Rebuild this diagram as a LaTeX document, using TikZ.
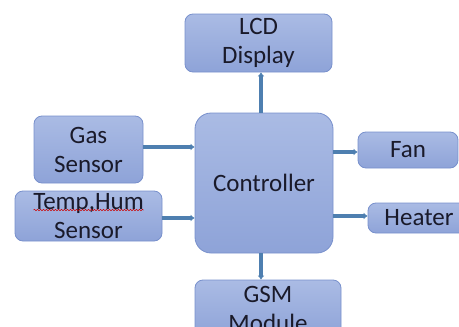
\documentclass[tikz,border=0pt]{standalone}
\usepackage{fontspec}
\setmainfont{Carlito}
\usetikzlibrary{arrows.meta,decorations.pathmorphing}
\definecolor{boxtop}{HTML}{AABBE4}
\definecolor{boxbot}{HTML}{8EA3D8}
\definecolor{boxline}{HTML}{7890CC}
\definecolor{arrcol}{HTML}{4E7FB0}
\definecolor{txtcol}{HTML}{1A1A2A}
\tikzset{
  blk/.style={draw=boxline, line width=0.8pt, top color=boxtop, bottom color=boxbot,
    rounded corners=8pt, inner sep=0pt, align=center, text=txtcol,
    font=\fontsize{25}{29}\selectfont},
  arr/.style={draw=arrcol, line width=3.2pt, -{Latex[length=4pt,width=7pt]}},
}
\begin{document}
\begin{tikzpicture}[x=1pt,y=-1pt]
\useasboundingbox (0,0) rectangle (459,327);
\clip (0,0) rectangle (459,327);
\node[blk, minimum width=147pt, minimum height=58pt] (lcd) at (258.5,43) {LCD\\Display};
\node[blk, minimum width=138pt, minimum height=140pt, rounded corners=16pt] (ctrl) at (264,183) {Controller};
\node[blk, minimum width=109pt, minimum height=67pt] (gas) at (88.5,149.5) {Gas\\Sensor};
\node[blk, minimum width=147pt, minimum height=50pt] (temp) at (88.5,216) {Temp,Hum\\Sensor};
\node[blk, minimum width=100pt, minimum height=36pt] (fan) at (408,150) {Fan};
\node[blk, minimum width=102pt, minimum height=30pt] (heater) at (419,218) {Heater};
\node[blk, minimum width=146pt, minimum height=58pt] (gsm) at (268,309) {GSM\\Module};
\draw[red!80!black, line width=0.5pt, decorate, decoration={snake, amplitude=0.7pt, segment length=3pt}]
  ([xshift=-55pt,yshift=6pt]temp.center) -- ([xshift=55pt,yshift=6pt]temp.center);
\draw[arr] ([xshift=-3pt]ctrl.north) -- ([xshift=-3pt]ctrl.north |- lcd.south);
\draw[arr] ([xshift=-3pt]ctrl.south) -- ([xshift=-3pt]ctrl.south |- gsm.north);
\draw[arr] ([yshift=2.5pt]gas.east) -- ([yshift=2.5pt]gas.east -| ctrl.west);
\draw[arr] ([yshift=-2pt]temp.east) -- ([yshift=-2pt]temp.east -| ctrl.west);
\draw[arr] ([yshift=-2pt]fan.west -| ctrl.east) -- ([yshift=-2pt]fan.west);
\draw[arr] ([yshift=2pt]heater.west -| ctrl.east) -- ([yshift=2pt]heater.west);
\end{tikzpicture}
\end{document}
